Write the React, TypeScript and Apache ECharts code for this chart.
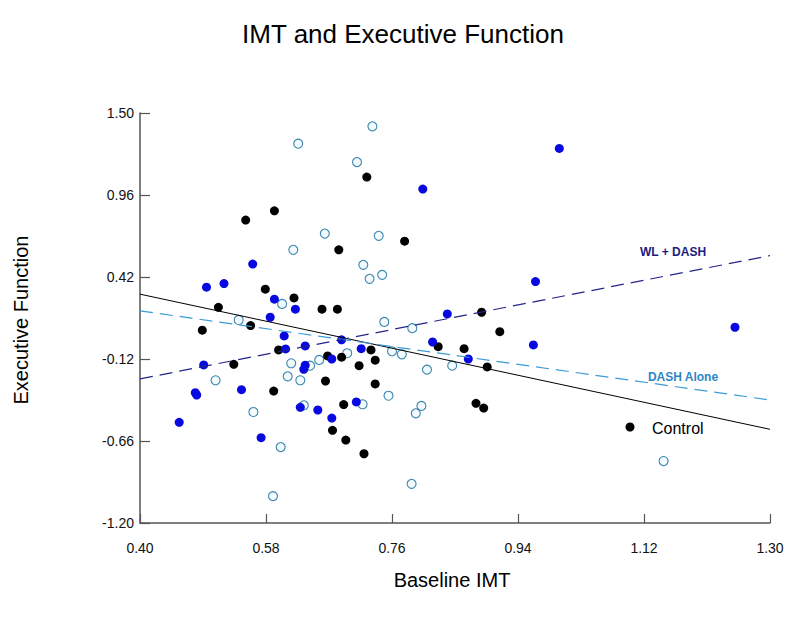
import React, { useEffect, useRef } from "react";
import * as echarts from "echarts";

const xTicks = [0.4, 0.58, 0.76, 0.94, 1.12, 1.3];
const yTicks = [-1.2, -0.66, -0.12, 0.42, 0.96, 1.5];

const controlX = [0.592,0.551,0.684,0.579,0.620,0.660,0.682,0.512,0.724,0.778,0.489,0.558,0.598,0.668,0.688,0.534,0.665,0.591,0.691,0.675,0.694,0.730,0.736,0.713,0.736,0.720,0.826,0.863,0.896,0.888,0.914,0.880,0.891];
const controlY = [0.856,0.795,0.599,0.340,0.282,0.208,0.208,0.220,1.078,0.656,0.070,0.100,-0.060,-0.100,-0.108,-0.155,-0.265,-0.331,-0.420,-0.590,-0.654,-0.060,-0.128,-0.164,-0.284,-0.744,-0.039,-0.052,-0.172,0.188,0.060,-0.412,-0.443];

const wlDashX = [0.561,0.495,0.520,0.592,0.622,0.586,0.804,0.999,0.965,0.839,0.606,0.608,0.636,0.688,0.674,0.491,0.636,0.634,0.479,0.481,0.545,0.629,0.654,0.674,0.456,0.573,0.716,0.818,0.869,0.962,0.709,1.250];
const wlDashY = [0.505,0.353,0.377,0.274,0.208,0.155,0.999,1.267,0.390,0.177,0.032,-0.054,-0.034,0.006,-0.120,-0.159,-0.161,-0.188,-0.342,-0.357,-0.322,-0.438,-0.456,-0.509,-0.537,-0.638,-0.052,-0.008,-0.120,-0.027,-0.403,0.089];

const dashAloneX = [0.626,0.664,0.619,0.603,0.541,0.732,0.710,0.741,0.719,0.728,0.746,0.749,0.789,0.696,0.616,0.643,0.656,0.508,0.611,0.629,0.562,0.634,0.601,0.590,0.760,0.774,0.810,0.846,0.755,0.718,0.802,0.794,0.788,1.148];
const dashAloneY = [1.298,0.706,0.599,0.243,0.137,1.412,1.177,0.691,0.500,0.408,0.434,0.124,0.083,-0.082,-0.148,-0.164,-0.126,-0.260,-0.234,-0.260,-0.469,-0.425,-0.700,-1.023,-0.069,-0.089,-0.190,-0.164,-0.362,-0.418,-0.429,-0.478,-0.942,-0.792];

const fitX = [0.4, 1.3];
const controlFit = [0.307, -0.583];
const dashAloneFit = [0.197, -0.39];
const wlDashFit = [-0.251, 0.561];

const zip = (xs: number[], ys: number[]) => xs.map((x, i) => [x, ys[i]]);

const FONT = "'Liberation Sans', Arial, Helvetica, sans-serif";
const AXIS_COLOR = "#555555";

export default function App() {
  const ref = useRef<HTMLDivElement>(null);
  useEffect(() => {
    if (!ref.current) return;
    const chart = echarts.init(ref.current, undefined, { renderer: "svg" });
    chart.setOption({
      animation: false,
      backgroundColor: "#ffffff",
      grid: { left: 140, right: 18, top: 113, bottom: 94, containLabel: false },
      xAxis: {
        type: "value",
        min: 0.4,
        max: 1.3,
        splitLine: { show: false },
        axisLine: { show: true, onZero: false, lineStyle: { color: AXIS_COLOR, width: 1.5 } },
        axisTick: { show: true, inside: true, length: 9, customValues: xTicks, lineStyle: { color: AXIS_COLOR, width: 1.2 } },
        axisLabel: {
          customValues: xTicks,
          formatter: (v: number) => v.toFixed(2),
          margin: 18,
          fontSize: 14,
          color: "#111",
          fontFamily: FONT,
        },
      },
      yAxis: {
        type: "value",
        min: -1.2,
        max: 1.5,
        splitLine: { show: false },
        axisLine: { show: true, onZero: false, lineStyle: { color: AXIS_COLOR, width: 1.5 } },
        axisTick: { show: true, inside: true, length: 10, customValues: yTicks, lineStyle: { color: AXIS_COLOR, width: 1.2 } },
        axisLabel: {
          customValues: yTicks,
          formatter: (v: number) => v.toFixed(2),
          margin: 6,
          fontSize: 14,
          color: "#111",
          fontFamily: FONT,
        },
      },
      series: [
        {
          name: "DASH Alone",
          type: "scatter",
          symbol: "circle",
          symbolSize: 9,
          data: zip(dashAloneX, dashAloneY),
          itemStyle: { color: "#f4fbfe", borderColor: "#3a86ad", borderWidth: 1.1, opacity: 1 },
        },
        {
          name: "Control",
          type: "scatter",
          symbol: "circle",
          symbolSize: 9,
          data: zip(controlX, controlY),
          itemStyle: { color: "#000000", opacity: 1 },
        },
        {
          name: "WL + DASH",
          type: "scatter",
          symbol: "circle",
          symbolSize: 9,
          data: zip(wlDashX, wlDashY),
          itemStyle: { color: "#0808e0", opacity: 1 },
        },
        {
          name: "Control fit",
          type: "line",
          showSymbol: false,
          symbol: "none",
          data: zip(fitX, controlFit),
          lineStyle: { color: "#000000", width: 1 },
        },
        {
          name: "DASH Alone fit",
          type: "line",
          showSymbol: false,
          symbol: "none",
          data: zip(fitX, dashAloneFit),
          lineStyle: { color: "#3b9bd6", width: 1.2, type: [13, 7] },
        },
        {
          name: "WL + DASH fit",
          type: "line",
          showSymbol: false,
          symbol: "none",
          data: zip(fitX, wlDashFit),
          lineStyle: { color: "#25258a", width: 1.2, type: [13, 7] },
        },
      ],
      graphic: [
        {
          type: "text",
          x: 403,
          y: 34,
          style: {
            text: "IMT and Executive Function",
            font: `26px ${FONT}`,
            fill: "#000",
            align: "center",
            verticalAlign: "middle",
          },
        },
        {
          type: "text",
          x: 452,
          y: 580,
          style: {
            text: "Baseline IMT",
            font: `20px ${FONT}`,
            fill: "#000",
            align: "center",
            verticalAlign: "middle",
          },
        },
        {
          type: "text",
          x: 21,
          y: 320,
          rotation: Math.PI / 2,
          style: {
            text: "Executive Function",
            font: `20px ${FONT}`,
            fill: "#000",
            align: "center",
            verticalAlign: "middle",
          },
        },
        {
          type: "text",
          x: 673,
          y: 252,
          style: {
            text: "WL + DASH",
            font: `bold 12px ${FONT}`,
            fill: "#1c1c80",
            align: "center",
            verticalAlign: "middle",
          },
        },
        {
          type: "text",
          x: 683,
          y: 377,
          style: {
            text: "DASH Alone",
            font: `bold 12px ${FONT}`,
            fill: "#2f86c6",
            align: "center",
            verticalAlign: "middle",
          },
        },
        {
          type: "circle",
          shape: { cx: 630, cy: 427, r: 4.5 },
          style: { fill: "#000" },
        },
        {
          type: "text",
          x: 652,
          y: 428,
          style: {
            text: "Control",
            font: `16px ${FONT}`,
            fill: "#000",
            align: "left",
            verticalAlign: "middle",
          },
        },
      ],
    });
    return () => chart.dispose();
  }, []);
  return (
    <div
      ref={ref}
      style={{ position: "fixed", left: 0, top: 0, width: 788, height: 617, background: "#fff" }}
    />
  );
}
